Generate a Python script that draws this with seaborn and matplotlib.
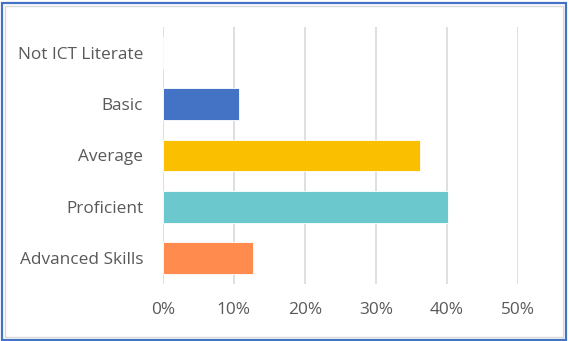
import matplotlib
matplotlib.use("Agg")
import matplotlib.pyplot as plt
import matplotlib.patches as mpatches
from matplotlib.ticker import FuncFormatter
import seaborn as sns
import pandas as pd

categories = ["Not ICT Literate", "Basic", "Average", "Proficient", "Advanced Skills"]
shares = [0.0, 0.107, 0.362, 0.402, 0.127]
bar_colors = ["#4472C4", "#4472C4", "#FAC000", "#6BC8CC", "#FF8B4F"]
x_ticks = [0.0, 0.1, 0.2, 0.3, 0.4, 0.5]

sns.set_style("white")
plt.rcParams["font.family"] = ["Open Sans", "DejaVu Sans"]

df = pd.DataFrame({"level": categories, "share": shares})

fig = plt.figure(figsize=(5.69, 3.41), dpi=100)
ax = fig.add_axes([0.286, 0.167, 0.6244, 0.754])

sns.barplot(data=df, y="level", x="share", hue="level", palette=bar_colors,
            order=categories, hue_order=categories, legend=False, saturation=1,
            width=0.62, edgecolor="#FFFFFF", linewidth=0.6, ax=ax, zorder=3)

ax.set_xlim(0, 0.5)
ax.set_xticks(x_ticks)
ax.xaxis.set_major_formatter(FuncFormatter(lambda v, _: f"{v*100:.0f}%"))
ax.grid(axis="x", color="#D9D9D9", linewidth=1.2, zorder=0)
ax.grid(axis="y", visible=False)
for s in ax.spines.values():
    s.set_visible(False)
ax.set_xlabel("")
ax.set_ylabel("")
ax.tick_params(axis="both", length=0, labelsize=12.4, colors="#595959")
ax.tick_params(axis="x", pad=13)
ax.tick_params(axis="y", pad=14)

# chart frame: light inner border and blue outer border
fig.patches.append(mpatches.Rectangle((4.5 / 569, 4.5 / 341), 558 / 569, 331 / 341,
                                      transform=fig.transFigure, fill=False,
                                      edgecolor="#D9D9D9", linewidth=1.0))
fig.patches.append(mpatches.Rectangle((1.5 / 569, 1.5 / 341), 564 / 569, 337 / 341,
                                      transform=fig.transFigure, fill=False,
                                      edgecolor="#4472C4", linewidth=1.6))

fig.savefig("out.png", dpi=100)
